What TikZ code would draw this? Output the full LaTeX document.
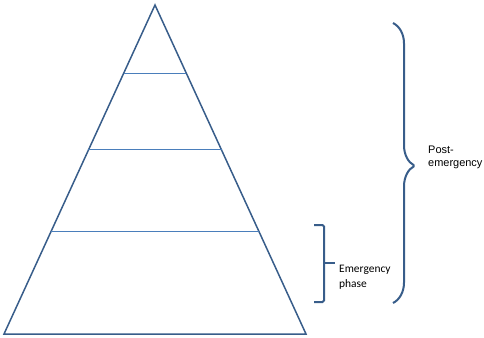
\documentclass[tikz,border=0pt]{standalone}
\usepackage{fontspec}
\setmainfont{Carlito}
\newfontfamily\arialfont{Liberation Sans}
\usetikzlibrary{calc, decorations.pathreplacing}
\definecolor{clrEdge}{RGB}{56,93,138}
\definecolor{clrLevel}{RGB}{74,126,187}

\begin{document}
\begin{tikzpicture}[
  x=1bp, y=-1bp,
  edge/.style={draw=clrEdge, line width=1.5bp, line join=miter},
  level/.style={draw=clrLevel, line width=1bp},
  bracket/.style={draw=clrEdge, line width=2bp, rounded corners=1.5bp},
  phasetext/.style={inner sep=0pt, anchor=west, align=left}
]
\useasboundingbox (0,0) rectangle (484,337);

% pyramid corners
\coordinate (apex) at (155,5);
\coordinate (baseL) at (4,334);
\coordinate (baseR) at (306,334);
\draw[edge] (apex) -- (baseL) -- (baseR) -- cycle;

% levels inside the pyramid
\foreach \t in {0.2067, 0.4407, 0.6869}
  \draw[level] ($(apex)!\t!(baseL)$) -- ($(apex)!\t!(baseR)$);

% emergency bracket
\coordinate (emTop) at (314,225);
\coordinate (emBot) at (314,302);
\draw[bracket] (emTop) -- ++(10,0) |- (emBot);
\coordinate (emMid) at (324,263);
\node[phasetext, font=\fontsize{11.5}{15}\selectfont] (emText) at (339,277)
      {Emergency\\phase};
\draw[bracket] (emMid) -- ++(11,0);

% post-emergency brace
\coordinate (postTop) at (393,23);
\coordinate (postBot) at (393,303);
\draw[bracket, decorate, decoration={brace, amplitude=22bp, aspect=0.51}]
      (postTop) -- (postBot);
\node[phasetext, font=\arialfont\fontsize{11}{13}\selectfont] (postText)
      at (428,157) {Post-\\emergency};
\end{tikzpicture}
\end{document}
